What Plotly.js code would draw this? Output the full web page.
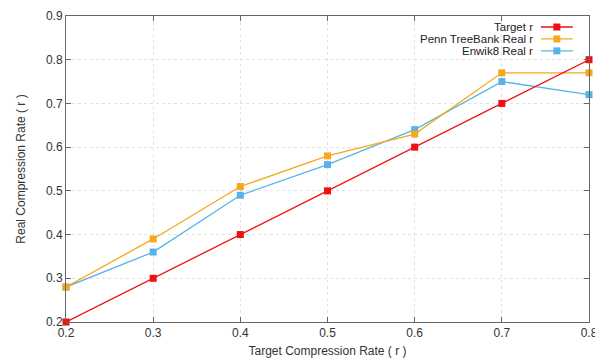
<!DOCTYPE html>
<html>
<head>
<meta charset="utf-8">
<script src="https://cdn.plot.ly/plotly-3.0.1.min.js"></script>
<style>
  html, body { margin: 0; padding: 0; background: #fff; }
  #chart { width: 595px; height: 361px; }
</style>
</head>
<body>
<div id="chart"></div>
<script>
// Target compression rate (x) and measured real compression rate per corpus
const targetRate = [0.2, 0.3, 0.4, 0.5, 0.6, 0.7, 0.8];
const targetReal = [0.2, 0.3, 0.4, 0.5, 0.6, 0.7, 0.8];
const pennReal   = [0.28, 0.39, 0.51, 0.58, 0.63, 0.77, 0.77];
const enwikReal  = [0.28, 0.36, 0.49, 0.56, 0.64, 0.75, 0.72];

const seriesNames  = ['Target r', 'Penn TreeBank Real r', 'Enwik8 Real r'];
const seriesColors = ['#ee1111', '#f6a81c', '#58b4e6'];
const seriesValues = [targetReal, pennReal, enwikReal];

const xTicks = [0.2, 0.3, 0.4, 0.5, 0.6, 0.7, 0.8];
const yTicks = [0.2, 0.3, 0.4, 0.5, 0.6, 0.7, 0.8, 0.9];

const font = 'Liberation Sans, Arial, sans-serif';

// Draw order: Enwik8 first, then Penn, then Target on top
const order = [2, 1, 0];
const traces = order.map(i => ({
  x: targetRate,
  y: seriesValues[i],
  name: seriesNames[i],
  type: 'scatter',
  mode: 'lines+markers',
  line: { color: seriesColors[i], width: 1.3 },
  marker: { color: seriesColors[i], symbol: 'square', size: 7 },
  cliponaxis: false,
  showlegend: false
}));

// Key in the upper right: right-aligned label, then a line sample with a marker
const keyY = [0.964, 0.925, 0.886];
const annotations = [];
const shapes = [];
seriesNames.forEach((name, i) => {
  annotations.push({
    xref: 'paper', yref: 'paper', x: 0.895, y: keyY[i],
    xanchor: 'right', yanchor: 'middle', showarrow: false,
    borderpad: 0,
    text: name, font: { family: font, size: 11.5, color: '#222' }
  });
  shapes.push({
    type: 'line', xref: 'paper', yref: 'paper',
    x0: 0.908, x1: 0.969, y0: keyY[i], y1: keyY[i],
    line: { color: seriesColors[i], width: 1.3 }
  });
  shapes.push({
    type: 'rect', xref: 'paper', yref: 'paper',
    xsizemode: 'pixel', ysizemode: 'pixel',
    xanchor: 0.9385, yanchor: keyY[i],
    x0: -3.5, x1: 3.5, y0: -3.5, y1: 3.5,
    fillcolor: seriesColors[i], line: { width: 0 }
  });
});

const axisCommon = {
  showline: true, mirror: 'ticks', linecolor: '#666', linewidth: 1,
  ticks: 'inside', ticklen: 5, tickcolor: '#666',
  showgrid: true, gridcolor: '#e2e2e2', griddash: 'dot', gridwidth: 1,
  zeroline: false,
  ticklabeloverflow: 'allow',
  tickfont: { family: font, size: 12, color: '#333' }
};

const layout = {
  width: 595, height: 361,
  margin: { l: 66, r: 6, t: 16, b: 39 },
  paper_bgcolor: '#fff', plot_bgcolor: '#fff',
  xaxis: Object.assign({}, axisCommon, {
    range: [0.2, 0.8], tickvals: xTicks, ticktext: xTicks.map(v => v.toFixed(1)),
    title: { text: 'Target Compression Rate ( r )', font: { family: font, size: 12, color: '#333' }, standoff: 7 }
  }),
  yaxis: Object.assign({}, axisCommon, {
    range: [0.2, 0.9], tickvals: yTicks, ticktext: yTicks.map(v => v.toFixed(1)),
    title: { text: 'Real Compression Rate ( r )', font: { family: font, size: 12, color: '#333' }, standoff: 17 }
  }),
  annotations: annotations,
  shapes: shapes,
  showlegend: false
};

Plotly.newPlot('chart', traces, layout, { displayModeBar: false, staticPlot: true });
</script>
</body>
</html>
